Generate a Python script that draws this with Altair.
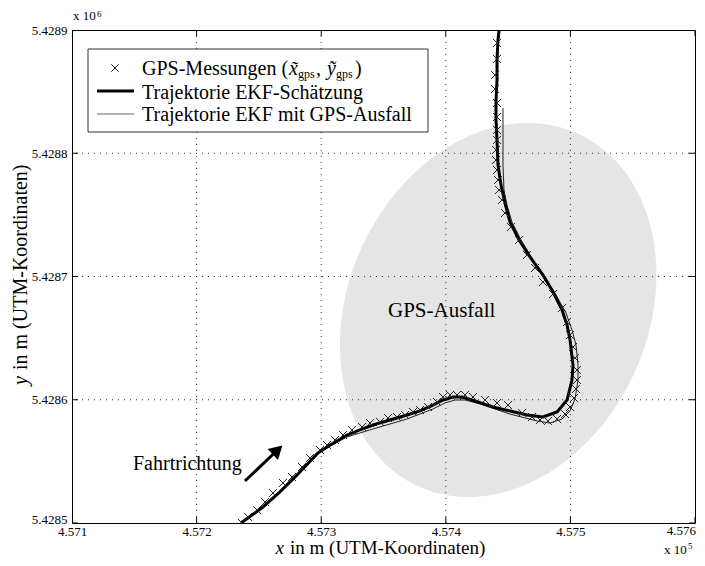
import altair as alt
import numpy as np
import pandas as pd

FONT = "Liberation Serif"

x_ticks = [457100, 457200, 457300, 457400, 457500, 457600]
y_ticks = [5428500, 5428600, 5428700, 5428800, 5428900]

ekf_x = [457235.6, 457244.5, 457253.3, 457266.9, 457280.6, 457297.4, 457307.1, 457320.7, 457331.1, 457341.6,
         457355.2, 457368.9, 457379.3, 457389.7, 457397.8, 457405.8, 457413.0, 457421.0, 457437.9, 457451.5,
         457465.2, 457478.0, 457489.3, 457497.3, 457501.3, 457502.1, 457499.7, 457497.3, 457493.3, 457486.1,
         457478.0, 457467.6, 457458.8, 457451.5, 457447.5, 457444.3, 457441.9, 457441.1, 457440.3, 457440.3,
         457441.1, 457441.1, 457441.9, 457442.7]
ekf_y = [5428500.0, 5428506.5, 5428513.0, 5428525.2, 5428538.9, 5428556.8, 5428563.3, 5428571.4, 5428575.5, 5428579.5,
         5428583.6, 5428587.6, 5428590.9, 5428595.7, 5428599.8, 5428602.2, 5428602.2, 5428599.8, 5428594.1, 5428590.9,
         5428587.6, 5428586.0, 5428590.1, 5428599.8, 5428616.0, 5428628.2, 5428648.5, 5428660.7, 5428672.8, 5428687.4,
         5428701.2, 5428715.8, 5428729.6, 5428744.2, 5428759.6, 5428774.3, 5428790.5, 5428810.8, 5428827.0, 5428843.2,
         5428859.5, 5428875.7, 5428891.9, 5428900.0]

out_x = [457235.6, 457253.3, 457280.6, 457297.4, 457320.7, 457341.6, 457368.9, 457389.7, 457399.4, 457407.4,
         457415.4, 457427.5, 457451.5, 457473.2, 457483.6, 457493.3, 457499.7, 457503.7, 457506.1, 457506.1,
         457504.5, 457501.3, 457496.5, 457488.5, 457479.6, 457469.2, 457460.4, 457453.1, 457449.1, 457446.7,
         457445.9, 457445.9, 457445.9, 457445.9]
out_y = [5428500.0, 5428513.0, 5428538.9, 5428556.8, 5428569.8, 5428576.3, 5428584.4, 5428592.5, 5428597.4, 5428599.8,
         5428599.8, 5428596.6, 5428588.4, 5428582.8, 5428581.1, 5428584.4, 5428590.9, 5428600.6, 5428616.0, 5428628.2,
         5428644.4, 5428656.6, 5428670.4, 5428685.0, 5428699.6, 5428715.0, 5428729.6, 5428744.2, 5428758.0, 5428770.2,
         5428790.5, 5428810.8, 5428827.0, 5428836.7]

gps_x = [457441.1, 457441.1, 457439.5, 457439.5, 457441.1, 457441.1, 457441.1, 457441.1, 457440.3, 457440.3,
         457441.1, 457441.9, 457442.7, 457445.1, 457447.5, 457452.3, 457458.8, 457465.2, 457471.6, 457478.0,
         457486.1, 457493.3, 457497.3, 457499.7, 457502.1, 457503.7, 457505.3, 457505.3, 457504.5, 457502.9,
         457499.7, 457495.7, 457489.3, 457482.0, 457475.6, 457469.2, 457461.2, 457449.9, 457441.1, 457431.5,
         457421.8, 457415.4, 457409.0, 457403.4, 457397.8, 457392.9, 457385.7, 457379.3, 457373.7, 457367.3,
         457360.8, 457353.6, 457347.2, 457339.2, 457332.8, 457324.7, 457317.5, 457311.1, 457304.7, 457299.0,
         457291.0, 457284.6, 457276.6, 457269.3, 457261.3, 457254.9, 457248.5, 457241.3, 457236.4]
gps_y = [5428889.5, 5428876.5, 5428863.5, 5428852.1, 5428840.8, 5428829.4, 5428818.9, 5428810.8, 5428802.7, 5428794.5,
         5428786.4, 5428778.3, 5428770.2, 5428762.1, 5428751.5, 5428740.2, 5428729.6, 5428717.5, 5428706.9, 5428695.5,
         5428685.8, 5428674.5, 5428663.1, 5428652.5, 5428642.8, 5428633.9, 5428624.1, 5428616.0, 5428608.7, 5428601.4,
         5428594.1, 5428588.4, 5428584.4, 5428582.8, 5428583.6, 5428586.0, 5428589.3, 5428595.7, 5428597.4, 5428599.8,
         5428602.2, 5428603.9, 5428603.9, 5428603.9, 5428602.2, 5428598.2, 5428594.1, 5428591.7, 5428590.1, 5428587.6,
         5428586.0, 5428585.2, 5428582.0, 5428581.1, 5428577.9, 5428575.5, 5428571.4, 5428567.3, 5428563.3, 5428559.2,
         5428552.7, 5428545.4, 5428537.3, 5428532.5, 5428524.3, 5428517.0, 5428510.5, 5428504.9, 5428500.0]

# GPS outage region (ellipse): centre, half-axes, tilt phase
ell_cx, ell_cy = 457442.0, 5428672.8
ell_rx, ell_ry = 127.0, 151.7
ell_phase = 0.19

# direction arrow (tail, head)
arrow_x = [457238.8, 457265.0]
arrow_y = [5428534.1, 5428559.2]

xs = alt.Scale(domain=[457100, 457600], nice=False, zero=False)
ys = alt.Scale(domain=[5428500, 5428900], nice=False, zero=False)

s = np.linspace(0, np.pi, 301)
ex = ell_cx + ell_rx * np.cos(s)
ya = ell_cy + ell_ry * np.sin(s + ell_phase)
yb = ell_cy + ell_ry * np.sin(-s + ell_phase)
ell_df = pd.DataFrame({"x": ex, "yt": np.maximum(ya, yb), "yb": np.minimum(ya, yb)})

ekf_df = pd.DataFrame({"x": ekf_x, "y": ekf_y, "i": range(len(ekf_x))})
out_df = pd.DataFrame({"x": out_x, "y": out_y, "i": range(len(out_x))})
gps_df = pd.DataFrame({"x": gps_x, "y": gps_y})

XA = alt.Axis(values=x_ticks[:-1], labelExpr="format(datum.value/100000, '.3f')", grid=False, ticks=False,
              domain=False, title=None, labelFont=FONT, labelFontSize=13, labelColor="black",
              labelPadding=2, labelFlush=False)
YA = alt.Axis(values=y_ticks, labelExpr="format(datum.value/1000000, '.4f')", grid=False, ticks=False,
              domain=False, title=None, labelFont=FONT, labelFontSize=13, labelColor="black",
              labelPadding=5, labelFlush=False,
              labelBaseline={"condition": {"test": "datum.value <= %d" % y_ticks[0], "value": "alphabetic"},
                             "value": "middle"})


def X(f):
    return alt.X(f, scale=xs, axis=XA, title=None)


def Y(f):
    return alt.Y(f, scale=ys, axis=YA, title=None)


ellipse = alt.Chart(ell_df).mark_area(color="#e5e5e5", opacity=1).encode(
    x=X("x:Q"), y=Y("yt:Q"), y2="yb:Q")

gx = alt.Chart(pd.DataFrame({"x": x_ticks[1:-1]})).mark_rule(
    color="black", strokeWidth=1, strokeDash=[1, 5], opacity=0.8).encode(x=X("x:Q"))
gy = alt.Chart(pd.DataFrame({"y": y_ticks[1:-1]})).mark_rule(
    color="black", strokeWidth=1, strokeDash=[1, 5], opacity=0.8).encode(y=Y("y:Q"))

tick_b = alt.Chart(pd.DataFrame({"x": x_ticks, "y": [y_ticks[0]] * len(x_ticks)})).mark_tick(
    orient="vertical", size=12, thickness=1, color="black", clip=True, opacity=1).encode(x=X("x:Q"), y=Y("y:Q"))
tick_t = alt.Chart(pd.DataFrame({"x": x_ticks, "y": [y_ticks[-1]] * len(x_ticks)})).mark_tick(
    orient="vertical", size=12, thickness=1, color="black", clip=True, opacity=1).encode(x=X("x:Q"), y=Y("y:Q"))
tick_l = alt.Chart(pd.DataFrame({"y": y_ticks, "x": [x_ticks[0]] * len(y_ticks)})).mark_tick(
    orient="horizontal", size=12, thickness=1, color="black", clip=True, opacity=1).encode(x=X("x:Q"), y=Y("y:Q"))
tick_r = alt.Chart(pd.DataFrame({"y": y_ticks, "x": [x_ticks[-1]] * len(y_ticks)})).mark_tick(
    orient="horizontal", size=12, thickness=1, color="black", clip=True, opacity=1).encode(x=X("x:Q"), y=Y("y:Q"))

thin = alt.Chart(out_df).mark_line(color="#222222", strokeWidth=1, clip=True).encode(
    x=X("x:Q"), y=Y("y:Q"), order="i:Q")
thick = alt.Chart(ekf_df).mark_line(color="black", strokeWidth=3, clip=True).encode(
    x=X("x:Q"), y=Y("y:Q"), order="i:Q")

CROSS = "M-1,-1L1,1M1,-1L-1,1"
gps = alt.Chart(gps_df).mark_point(shape=CROSS, size=64, filled=False, stroke="#222222",
                                   strokeWidth=1, opacity=1, clip=True).encode(x=X("x:Q"), y=Y("y:Q"))

arrow_line = alt.Chart(pd.DataFrame({"x": [arrow_x[0]], "y": [arrow_y[0]],
                                     "x2": [arrow_x[1]], "y2": [arrow_y[1]]})).mark_rule(
    color="black", strokeWidth=3).encode(x=X("x:Q"), y=Y("y:Q"), x2="x2:Q", y2="y2:Q")
arrow_head = alt.Chart(pd.DataFrame({"x": [arrow_x[1]], "y": [arrow_y[1]]})).mark_point(
    shape="triangle-up", size=230, filled=True, color="black", opacity=1, angle=47).encode(
    x=X("x:Q"), y=Y("y:Q"))

one = pd.DataFrame({"a": [0]})


def txt(t, x, y, size=20, style="normal", align="left", baseline="alphabetic", angle=0):
    kw = dict(text=t, font=FONT, fontSize=size, fontStyle=style, align=align, baseline=baseline, color="black")
    if angle:
        kw["angle"] = angle
    return alt.Chart(one).mark_text(**kw).encode(x=alt.value(x), y=alt.value(y))


legend_box = alt.Chart(one).mark_rect(fill="white", stroke="#333333", strokeWidth=1).encode(
    x=alt.value(16), x2=alt.value(356), y=alt.value(19), y2=alt.value(102))
leg_cross = alt.Chart(one).mark_point(shape=CROSS, size=56, filled=False, stroke="#222222",
                                      strokeWidth=1, opacity=1).encode(x=alt.value(43), y=alt.value(38))
leg_thick = alt.Chart(one).mark_rule(color="black", strokeWidth=3).encode(
    x=alt.value(25), x2=alt.value(62), y=alt.value(61))
leg_thin = alt.Chart(one).mark_rule(color="#666666", strokeWidth=1).encode(
    x=alt.value(25), x2=alt.value(62), y=alt.value(84))

last_xlabel = "{:.3f}".format(x_ticks[-1] / 100000)

texts = [
    txt("GPS-Messungen (", 70, 45),
    txt("x\u0303", 217, 45, style="italic"),
    txt("gps", 226, 48, size=12),
    txt(",", 244, 45),
    txt("\u1ef9", 255, 45, style="italic"),
    txt("gps", 264, 48, size=12),
    txt(")", 283, 45),
    txt("Trajektorie EKF-Schätzung", 70, 69),
    txt("Trajektorie EKF mit GPS-Ausfall", 70, 91),
    txt("GPS-Ausfall", 316, 287, size=21),
    txt("Fahrtrichtung", 61, 440),
    # last x tick label (kept inside the page)
    txt(last_xlabel, 624, 495, size=13, align="right", baseline="top"),
    # x-axis title
    txt("x", 212, 524, size=19, style="italic", align="right"),
    txt("in m (UTM-Koordinaten)", 218, 524, size=19),
    # y-axis title
    txt("y", -45, 346, size=20, style="italic", align="right", angle=270),
    txt("in m (UTM-Koordinaten)", -45, 340, size=20, angle=270),
    # exponents
    txt("x 10", 1, -10, size=13),
    txt("6", 25, -13.5, size=9),
    txt("x 10", 592, 524, size=13),
    txt("5", 616, 519, size=9),
]

chart = alt.layer(
    ellipse, gx, gy, thin, thick, gps, arrow_line, arrow_head,
    tick_b, tick_t, tick_l, tick_r,
    legend_box, leg_cross, leg_thick, leg_thin, *texts
).properties(
    width=623, height=493,
    autosize=alt.AutoSizeParams(type="none"),
    padding={"left": 64, "top": 22, "right": 2, "bottom": 35},
    background="white",
).configure_view(stroke="black", strokeWidth=1)

chart.save("out.html", embed_options={"renderer": "svg", "actions": False})
